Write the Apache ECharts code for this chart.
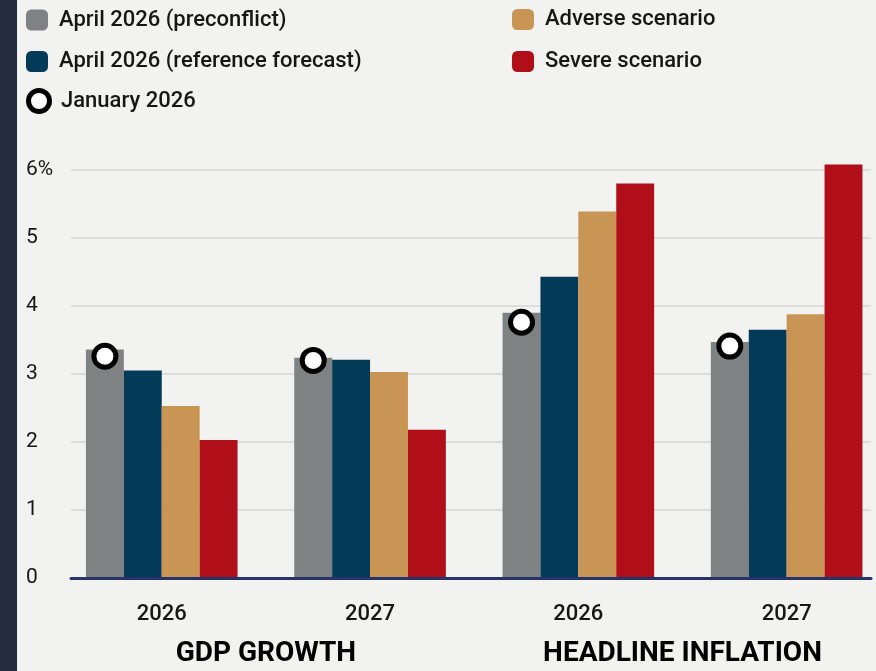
<!DOCTYPE html>
<html>
<head>
<meta charset="utf-8">
<script src="https://cdn.jsdelivr.net/npm/echarts@6/dist/echarts.min.js"></script>
<style>
html,body{margin:0;padding:0;background:#f2f2f0;}
#chart{width:876px;height:671px;}
</style>
</head>
<body>
<div id="chart"></div>
<script>
var categories = ['2026', '2027', '2026', '2027'];
var groupLabels = ['GDP GROWTH', 'HEADLINE INFLATION'];
var preconflict = [3.36, 3.24, 3.90, 3.47];
var referenceForecast = [3.05, 3.21, 4.43, 3.65];
var adverse = [2.53, 3.03, 5.39, 3.88];
var severe = [2.03, 2.18, 5.80, 6.08];
var january = [3.26, 3.20, 3.76, 3.41];
var yTicks = [0, 1, 2, 3, 4, 5, 6];

var BAR_W = 37.9;
var TXT = '#161616';
var legendFont = {fontFamily: 'Roboto', fontWeight: 500, fontSize: 22, color: TXT, padding: [0, 0, 0, 6]};
var PX_PER_UNIT = 68;
var BAR_AXIS_MAX = 6.5;

function legendRow(left, top, item) {
  return {orient: 'vertical', left: left, top: top, itemWidth: 22, itemHeight: 21, textStyle: legendFont, data: [item]};
}

var chart = echarts.init(document.getElementById('chart'), null, {renderer: 'canvas'});
chart.setOption({
  backgroundColor: '#f2f2f0',
  animation: false,
  graphic: [{type: 'rect', left: 0, top: 0, shape: {width: 17, height: 671}, style: {fill: '#232c3e'}, z: 10}],
  legend: [
    legendRow(21, 4, {name: 'April 2026 (preconflict)', icon: 'roundRect'}),
    legendRow(21, 45.5, {name: 'April 2026 (reference forecast)', icon: 'roundRect'}),
    legendRow(21, 83, {name: 'January 2026', icon: 'circle', itemStyle: {color: '#ffffff', borderColor: '#000000', borderWidth: 5}}),
    legendRow(507, 3.5, {name: 'Adverse scenario', icon: 'roundRect'}),
    legendRow(507, 45.5, {name: 'Severe scenario', icon: 'roundRect'})
  ],
  grid: [
    {left: 57.6, width: 833.2, top: 578 - BAR_AXIS_MAX * PX_PER_UNIT, height: BAR_AXIS_MAX * PX_PER_UNIT, outerBoundsMode: 'none', containLabel: false},
    {left: 71, width: 800, top: 170, height: 408, outerBoundsMode: 'none', containLabel: false}
  ],
  xAxis: [
    {
      type: 'category', gridIndex: 0, data: categories, position: 'bottom',
      axisLine: {show: false}, axisTick: {show: false}, splitLine: {show: false},
      axisLabel: {margin: 25, fontFamily: 'Roboto', fontWeight: 500, fontSize: 22, color: TXT, lineHeight: 22}
    },
    {
      type: 'category', gridIndex: 0, data: groupLabels, position: 'bottom', offset: 0,
      axisLine: {show: false}, axisTick: {show: false}, splitLine: {show: false},
      axisLabel: {margin: 62, fontFamily: 'Roboto', fontWeight: 'bold', fontSize: 28, color: '#000', lineHeight: 28}
    },
    {
      type: 'value', gridIndex: 1, min: 0, max: 1, position: 'bottom', z: 10,
      axisLine: {show: true, onZero: false, lineStyle: {color: '#27346a', width: 3}},
      axisTick: {show: false}, axisLabel: {show: false}, splitLine: {show: false}
    }
  ],
  yAxis: [
    {
      type: 'value', gridIndex: 0, min: 0, max: BAR_AXIS_MAX,
      axisLine: {show: false}, axisTick: {show: false}, axisLabel: {show: false}, splitLine: {show: false}
    },
    {
      type: 'value', gridIndex: 1, min: yTicks[0], max: yTicks[yTicks.length - 1], interval: 1,
      axisLine: {show: false}, axisTick: {show: false},
      splitLine: {show: true, lineStyle: {color: '#dcdcdc', width: 2}},
      axisLabel: {
        align: 'left', margin: 45, fontFamily: 'Roboto', fontSize: 21, color: TXT,
        formatter: function (v) { return v === yTicks[yTicks.length - 1] ? v + '%' : String(v); }
      }
    }
  ],
  series: [
    {name: 'April 2026 (preconflict)', type: 'bar', xAxisIndex: 0, yAxisIndex: 0, data: preconflict, barWidth: BAR_W, barGap: '0%', itemStyle: {color: '#7f8283'}},
    {name: 'April 2026 (reference forecast)', type: 'bar', xAxisIndex: 0, yAxisIndex: 0, data: referenceForecast, barWidth: BAR_W, barGap: '0%', itemStyle: {color: '#023a58'}},
    {name: 'Adverse scenario', type: 'bar', xAxisIndex: 0, yAxisIndex: 0, data: adverse, barWidth: BAR_W, barGap: '0%', itemStyle: {color: '#c99555'}},
    {name: 'Severe scenario', type: 'bar', xAxisIndex: 0, yAxisIndex: 0, data: severe, barWidth: BAR_W, barGap: '0%', itemStyle: {color: '#b00e19'}},
    {name: 'January 2026', type: 'scatter', xAxisIndex: 0, yAxisIndex: 0, data: january, symbol: 'circle', symbolSize: 22,
     symbolOffset: [-1.5 * BAR_W, 0], z: 5,
     itemStyle: {color: '#ffffff', borderColor: '#000000', borderWidth: 5, opacity: 1}}
  ]
});
</script>
</body>
</html>
